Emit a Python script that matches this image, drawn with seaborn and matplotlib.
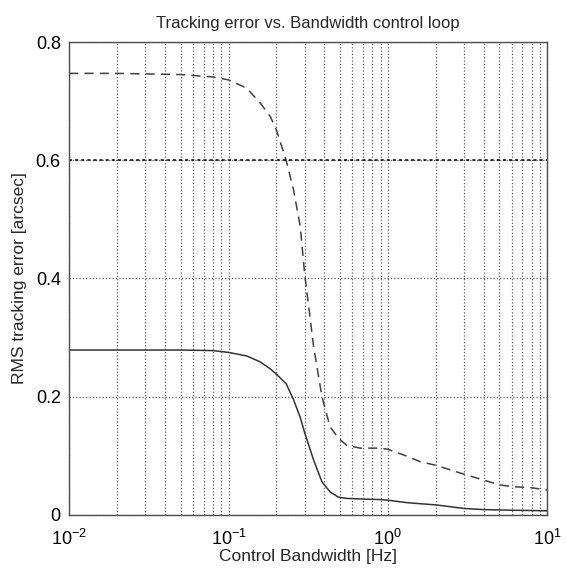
import matplotlib
matplotlib.use("Agg")
import matplotlib.pyplot as plt
import seaborn as sns
import pandas as pd
from matplotlib.ticker import LogLocator, FixedLocator, NullFormatter

# ---- data ----
freq_hz = [0.01, 0.02, 0.05, 0.08, 0.1, 0.13, 0.158, 0.183, 0.2, 0.23, 0.256,
           0.282, 0.3, 0.342, 0.386, 0.434, 0.49, 0.55, 0.67, 0.9, 1.0, 1.3,
           1.6, 2, 3, 4, 5, 6, 8, 10]
err_dashed = [0.747, 0.747, 0.745, 0.741, 0.736, 0.722, 0.697, 0.674, 0.651,
              0.600, 0.550, 0.488, 0.410, 0.285, 0.200, 0.149, 0.130, 0.118,
              0.113, 0.113, 0.111, 0.100, 0.090, 0.084, 0.069, 0.059, 0.051,
              0.048, 0.046, 0.042]
err_solid = [0.279, 0.279, 0.279, 0.278, 0.275, 0.269, 0.259, 0.247, 0.238,
             0.222, 0.195, 0.165, 0.140, 0.093, 0.056, 0.039, 0.030, 0.028,
             0.027, 0.026, 0.025, 0.021, 0.019, 0.017, 0.011, 0.009, 0.0085,
             0.008, 0.0075, 0.007]
requirement = 0.6
y_ticks = [0, 0.2, 0.4, 0.6, 0.8]
y_ticklabels = ["0", "0.2", "0.4", "0.6", "0.8"]
x_ticks = [0.01, 0.1, 1, 10]
x_ticklabels = [r"$10^{-2}$", r"$10^{-1}$", r"$10^{0}$", r"$10^{1}$"]
title = "Tracking error vs. Bandwidth control loop"
xlabel = "Control Bandwidth [Hz]"
ylabel = "RMS tracking error [arcsec]"

sns.set_theme(style="white")
plt.rcParams["font.family"] = ["Liberation Sans", "DejaVu Sans"]
plt.rcParams["mathtext.fontset"] = "custom"
plt.rcParams["mathtext.rm"] = "Liberation Sans"
plt.rcParams["mathtext.it"] = "Liberation Sans"

df = pd.DataFrame({"f": freq_hz, "dashed": err_dashed, "solid": err_solid})

fig = plt.figure(figsize=(5.67, 5.76), dpi=100)
ax = fig.add_axes([0.122, 0.106, 0.843, 0.821])

sns.lineplot(data=df, x="f", y="dashed", ax=ax, color="0.25", lw=1.1,
             linestyle=(0, (6, 4)))
sns.lineplot(data=df, x="f", y="solid", ax=ax, color="0.2", lw=1.1)

ax.set_xscale("log")
ax.set_xlim(0.01, 10)
ax.set_ylim(0, 0.8)

ax.xaxis.set_major_locator(FixedLocator(x_ticks))
ax.set_xticklabels(x_ticklabels)
ax.xaxis.set_minor_locator(LogLocator(base=10, subs=range(2, 10)))
ax.xaxis.set_minor_formatter(NullFormatter())
ax.set_yticks(y_ticks)
ax.set_yticklabels(y_ticklabels)

ax.grid(True, which="major", axis="both", color="0.35", linestyle=":", lw=0.9)
ax.grid(True, which="minor", axis="x", color="0.35", linestyle=":", lw=0.9)
ax.axhline(requirement, color="black", linestyle=(0, (2, 2)), lw=1.1)

ax.tick_params(axis="both", which="both", direction="in", labelsize=13,
               colors="black", length=4)
ax.tick_params(axis="x", which="minor", length=2)
ax.tick_params(axis="x", which="major", pad=10)
ax.tick_params(axis="y", which="major", pad=6)
for s in ax.spines.values():
    s.set_color("0.3")
    s.set_linewidth(1.0)

ax.set_title(title, fontsize=12, pad=10)
ax.set_xlabel(xlabel, fontsize=12.5, labelpad=0)
ax.set_ylabel(ylabel, fontsize=12.5, labelpad=6)

fig.savefig("out.png", dpi=100)
